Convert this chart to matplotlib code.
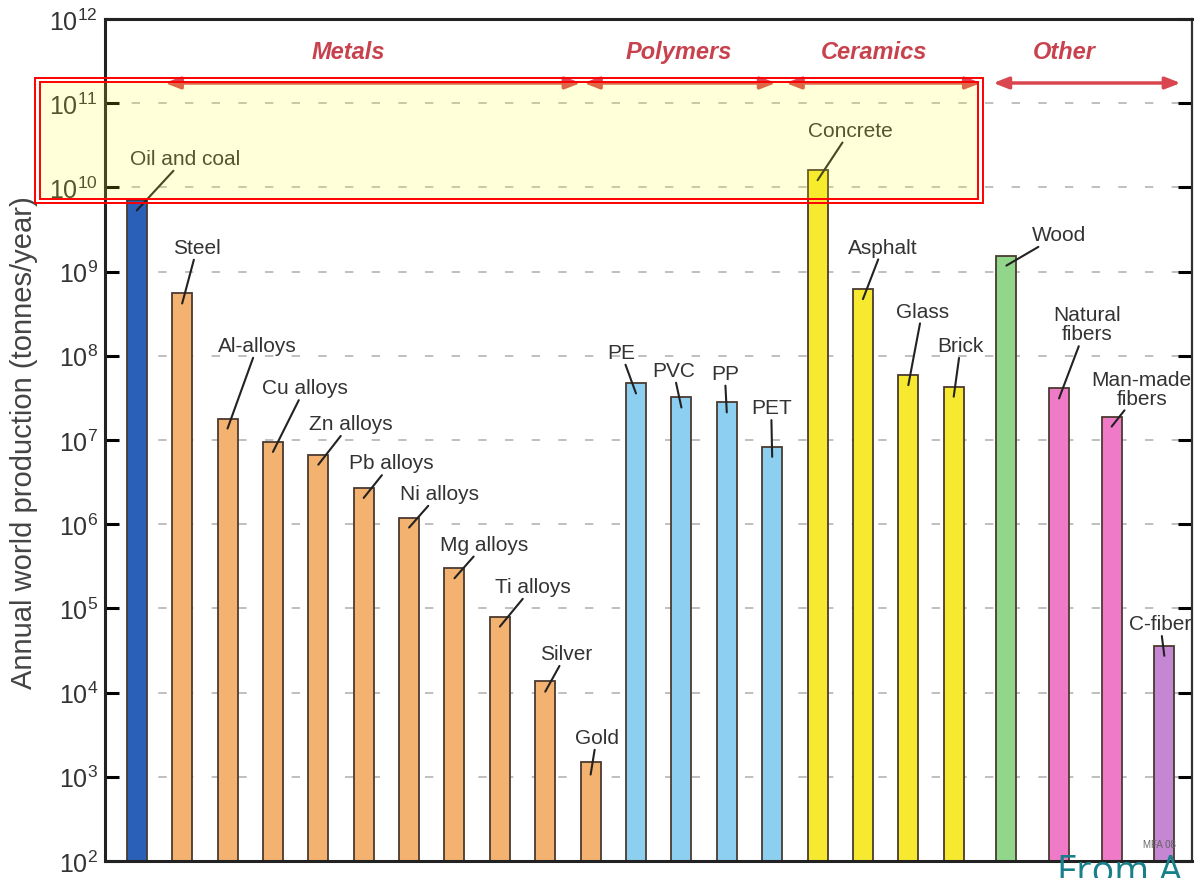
import numpy as np
import matplotlib
matplotlib.use("Agg")
import matplotlib.pyplot as plt
from matplotlib.patches import Rectangle
from matplotlib.transforms import blended_transform_factory

plt.rcParams['font.family'] = ['Liberation Sans', 'DejaVu Sans']
plt.rcParams['mathtext.fontset'] = 'custom'
plt.rcParams['mathtext.rm'] = 'Liberation Sans'
plt.rcParams['mathtext.it'] = 'Liberation Sans:italic'

# materials and annual world production (tonnes/year)
materials = ['Oil and coal', 'Steel', 'Al-alloys', 'Cu alloys', 'Zn alloys',
             'Pb alloys', 'Ni alloys', 'Mg alloys', 'Ti alloys', 'Silver', 'Gold',
             'PE', 'PVC', 'PP', 'PET',
             'Concrete', 'Asphalt', 'Glass', 'Brick',
             'Wood', 'Natural\nfibers', 'Man-made\nfibers', 'C-fiber']
production = [7e9, 5.5e8, 1.8e7, 9.5e6, 6.7e6,
              2.7e6, 1.2e6, 3.0e5, 8.0e4, 1.35e4, 1.4e3,
              4.7e7, 3.2e7, 2.8e7, 8.3e6,
              1.6e10, 6.2e8, 5.9e7, 4.3e7,
              1.55e9, 4.1e7, 1.9e7, 3.6e4]
kind = ['fuel'] + ['metal'] * 10 + ['polymer'] * 4 + ['ceramic'] * 4 + \
       ['wood', 'fiber', 'fiber', 'carbon']

groups = ['Metals', 'Polymers', 'Ceramics', 'Other']

colors = {'fuel': '#2a60b8', 'metal': '#f3b26f', 'polymer': '#8ccff0',
          'ceramic': '#f6e92f', 'wood': '#92d68b', 'fiber': '#ef7bc8',
          'carbon': '#c586d3'}

# label offsets from bar top, in pixels (dx, dy)
label_offsets = [(48, 47), (15, 51), (30, 78), (32, 59), (32, 36),
                 (28, 30), (30, 29), (30, 29), (33, 35), (21, 33), (6, 32),
                 (-15, 36), (-8, 32), (-2, 34), (-1, 44),
                 (33, 45), (20, 47), (14, 69), (7, 46),
                 (53, 26), (28, 69), (30, 33), (-4, 27)]

# bar positions: unit spacing, the "Other" group a bit wider
x = np.arange(len(materials), dtype=float)
x[19:] = 18 + 1.16 * np.arange(1, 5)

fig = plt.figure(figsize=(11.96, 8.79), dpi=100)
ax = fig.add_axes([105 / 1196, 17 / 879, 1087 / 1196, 842 / 879])

ax.set_yscale('log')
ax.set_ylim(1e2, 1e12)
ax.set_xlim(-0.7, 23.25)

# dashed decade lines
for k in range(3, 12):
    ax.axhline(10.0 ** k, color='#b4b4b4', lw=1.2, dashes=(5, 11), zorder=0)

ax.bar(x, production, width=0.44, bottom=1e2,
       color=[colors[k] for k in kind], edgecolor='#4a3a30', linewidth=1.3, zorder=2)

# leader line tip sits ~10 px inside the bar top
tip = 10 ** (-10 / 84)
for xi, val, name, (dx, dy) in zip(x, production, materials, label_offsets):
    ax.annotate(name, xy=(xi, val * tip), xytext=(dx, dy + 5), textcoords='offset pixels',
                ha='center', va='center', fontsize=15, color='#333333',
                linespacing=1.0, multialignment='center',
                arrowprops=dict(arrowstyle='-', color='#222222', lw=1.5,
                                shrinkA=0, shrinkB=0), zorder=3)

# category headers with double arrows
trans = blended_transform_factory(ax.transData, ax.transAxes)
spans = [(0.62, 9.78), (9.85, 14.08), (14.3, 18.6), (18.87, 23.0)]
header_x = [4.66, 11.94, 16.25, 20.44]
for name, (a, b), hx in zip(groups, spans, header_x):
    ax.annotate('', xy=(a, 0.924), xytext=(b, 0.924), xycoords=trans, textcoords=trans,
                arrowprops=dict(arrowstyle='<|-|>,head_length=0.9,head_width=0.35',
                                color='#d9464f', lw=2.5, shrinkA=0, shrinkB=0))
    ax.text(hx, 0.961, name, transform=trans, ha='center', va='center',
            fontsize=17, fontweight='bold', fontstyle='italic', color='#c8424e')

ax.set_yticks([10.0 ** k for k in range(2, 13)])
ax.set_yticklabels([r'$10^{%d}$' % k for k in range(2, 13)])
ax.minorticks_off()
ax.set_xticks([])
ax.tick_params(axis='y', which='major', direction='in', length=10, width=2.2,
               labelsize=18, labelcolor='#333333', pad=5, right=True)
ax.set_ylabel('Annual world production (tonnes/year)', fontsize=21, color='#444444')
ax.yaxis.set_label_coords(-0.0616, 0.498)

for side in ['left', 'bottom', 'top']:
    ax.spines[side].set_linewidth(2.2)
    ax.spines[side].set_color('#222222')
ax.spines['right'].set_linewidth(1.6)
ax.spines['right'].set_color('#333333')

ax.text(0.985, 0.02, 'MFA 08', transform=ax.transAxes, ha='right', va='center',
        fontsize=7, color='#666666')

# highlighted band with double red frame
W, H = 1196, 879
def fig_rect(x0, y0, x1, y1, **kw):
    return Rectangle((x0 / W, 1 - y1 / H), (x1 - x0) / W, (y1 - y0) / H,
                     transform=fig.transFigure, **kw)

fig.patches.append(fig_rect(40, 83, 978, 200, facecolor='#ffff20', edgecolor='none',
                            alpha=0.17, zorder=10))
fig.patches.append(fig_rect(35, 79, 983, 204, facecolor='none', edgecolor='#ff0000',
                            lw=1.4, zorder=11))
fig.patches.append(fig_rect(40, 83, 978, 200, facecolor='none', edgecolor='#ff0000',
                            lw=1.4, zorder=11))

fig.text(1057 / W, -0.004, 'From A', fontsize=27, color='#18808a',
         family=['Open Sans', 'DejaVu Sans'], ha='left', va='baseline')

fig.savefig('out.png', dpi=100)
